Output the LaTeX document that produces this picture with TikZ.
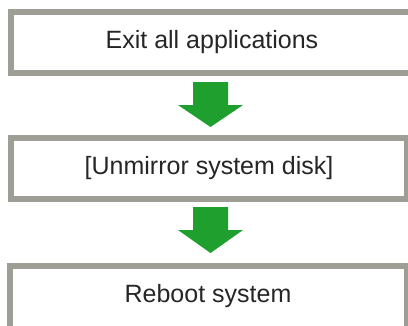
\documentclass[tikz,border=0pt]{standalone}
\usepackage{fontspec}
\setmainfont{Liberation Sans}
\definecolor{boxgray}{HTML}{9E9E96}
\definecolor{arrgreen}{HTML}{1FA02E}
\begin{document}
\begin{tikzpicture}[x=1pt,y=-1pt,
  stepbox/.style={draw=boxgray,line width=6pt,fill=white,inner sep=0pt,outer sep=0pt,
    minimum height=61pt,font=\fontsize{25}{30}\selectfont,text=black!85},
  bigarrow/.style={fill=arrgreen,draw=none}]
\useasboundingbox (0,0) rectangle (408,325);
\begin{scope}
\clip (0,0) rectangle (408,325);
\node[stepbox,minimum width=402pt] (a) at (212,42.5) {Exit all applications};
\node[stepbox,minimum width=396pt] (b) at (209,168.5) {[Unmirror system disk]};
\node[stepbox,minimum width=397pt,minimum height=64pt] (c) at (208.5,298) {};
\node[font=\fontsize{25}{30}\selectfont,text=black!85] (ct) at (208,296) {Reboot system};
\end{scope}
\fill[bigarrow] (193,82) -- (228,82) -- (228,105) -- (243,105) -- (210.5,127) -- (178,105) -- (193,105) -- cycle;
\fill[bigarrow] (193,207) -- (228,207) -- (228,230) -- (243,230) -- (210.5,253) -- (178,230) -- (193,230) -- cycle;
\end{tikzpicture}
\end{document}
